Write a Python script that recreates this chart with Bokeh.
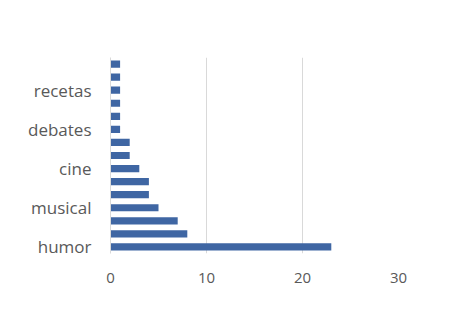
from bokeh.plotting import figure
from bokeh.models import Range1d, FixedTicker, ColumnDataSource
from bokeh.embed import file_html
from bokeh.resources import INLINE

# Data (bottom to top)
labels = ["humor", "", "", "musical", "", "", "cine", "", "", "debates", "", "", "recetas", "", ""]
values = [23, 8, 7, 5, 4, 4, 3, 2, 2, 1, 1, 1, 1, 1, 1]
x_ticks = [0, 10, 20, 30]

positions = list(range(len(values)))
src = ColumnDataSource(dict(y=positions, v=values))

p = figure(
    frame_width=288, frame_height=196,
    min_border_left=110, min_border_top=57, min_border_right=68, min_border_bottom=66,
    x_range=Range1d(0, 30), y_range=Range1d(-0.5, len(values) - 0.5),
    output_backend="svg", toolbar_location=None,
)
p.hbar(y="y", right="v", left=0, height=0.55, source=src,
       fill_color="#3F66A3", line_color=None)

p.outline_line_color = None
p.background_fill_color = "white"
p.border_fill_color = "white"

p.xaxis.ticker = FixedTicker(ticks=x_ticks)
p.xaxis.axis_line_color = None
p.xaxis.major_tick_line_color = None
p.xaxis.minor_tick_line_color = None
p.xaxis.major_label_text_color = "#595959"
p.xaxis.major_label_text_font = "Open Sans"
p.xaxis.major_label_text_font_size = "15px"
p.xaxis.major_label_standoff = 13

label_ticks = [i for i, l in enumerate(labels) if l]
p.yaxis.ticker = FixedTicker(ticks=label_ticks)
p.yaxis.major_label_overrides = {i: labels[i] for i in label_ticks}
p.yaxis.axis_line_color = "#d9d9d9"
p.yaxis.major_tick_line_color = None
p.yaxis.minor_tick_line_color = None
p.yaxis.major_label_text_color = "#595959"
p.yaxis.major_label_text_font = "Open Sans"
p.yaxis.major_label_text_font_size = "17px"
p.yaxis.major_label_standoff = 13

p.xgrid.ticker = FixedTicker(ticks=x_ticks)
p.xgrid.grid_line_color = "#d9d9d9"
p.ygrid.grid_line_color = None

open("out.html", "w").write(file_html(p, INLINE))
